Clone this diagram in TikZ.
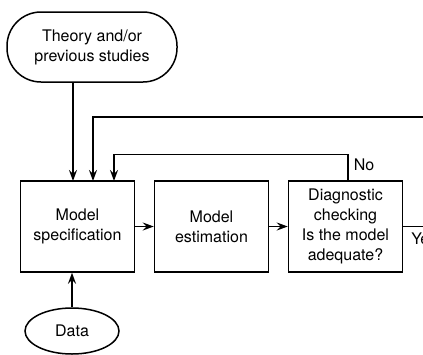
\documentclass[tikz,border=0pt]{standalone}
\usepackage{fontspec}
\setsansfont{TeX Gyre Heros}
\usepackage{tikz}
\usetikzlibrary{arrows,arrows.meta,shapes}

\begin{document}
\begin{tikzpicture}[x=1pt, y=-1pt, >={Stealth[length=11pt,width=8pt,inset=4pt]}, line width=1.5pt, font=\sffamily\fontsize{16}{20}\selectfont,
 box/.style={draw, rectangle, minimum width=114, minimum height=91, align=center, inner sep=0},
 term/.style={draw, rectangle, rounded corners=34, minimum width=170, minimum height=70, align=center},
 oval/.style={draw, ellipse, minimum width=94, minimum height=46, inner sep=0},
 lab/.style={anchor=west, inner sep=0}]
\useasboundingbox (0,0) rectangle (423,354);
\node[term] (theory) at (92,47) {Theory and/or\\previous studies};
\node[box] (spec) at (77.5,226.5) {Model\\specification};
\node[box] (est) at (211.5,226.5) {Model\\estimation};
\node[box] (diag) at (345.5,226.5) {Diagnostic\\checking\\Is the model\\adequate?};
\node[oval] (data) at (72,331) {Data};
\node[lab] (no) at (353,165) {No};
\node[lab] (yes) at (410.5,239) {Yes};
\coordinate (in1) at (73,181);
\coordinate (in2) at (93,181);
\coordinate (in3) at (114,181);
\coordinate (back) at (440,117);
\coordinate (out) at (440,226.5);
% inputs into the specification box
\draw[->] (theory.south -| in1) -- (in1);
\draw[->] (back) -| (in2);
\draw[->] ([xshift=2.5]diag.north) -- ++(0,-26) -| (in3);
\draw[->] (data.north) -- (data.north |- spec.south);
% main chain
\draw[->] (spec) -- (est);
\draw[->] (est) -- (diag);
\draw (diag.east) -- (out);
\end{tikzpicture}
\end{document}
